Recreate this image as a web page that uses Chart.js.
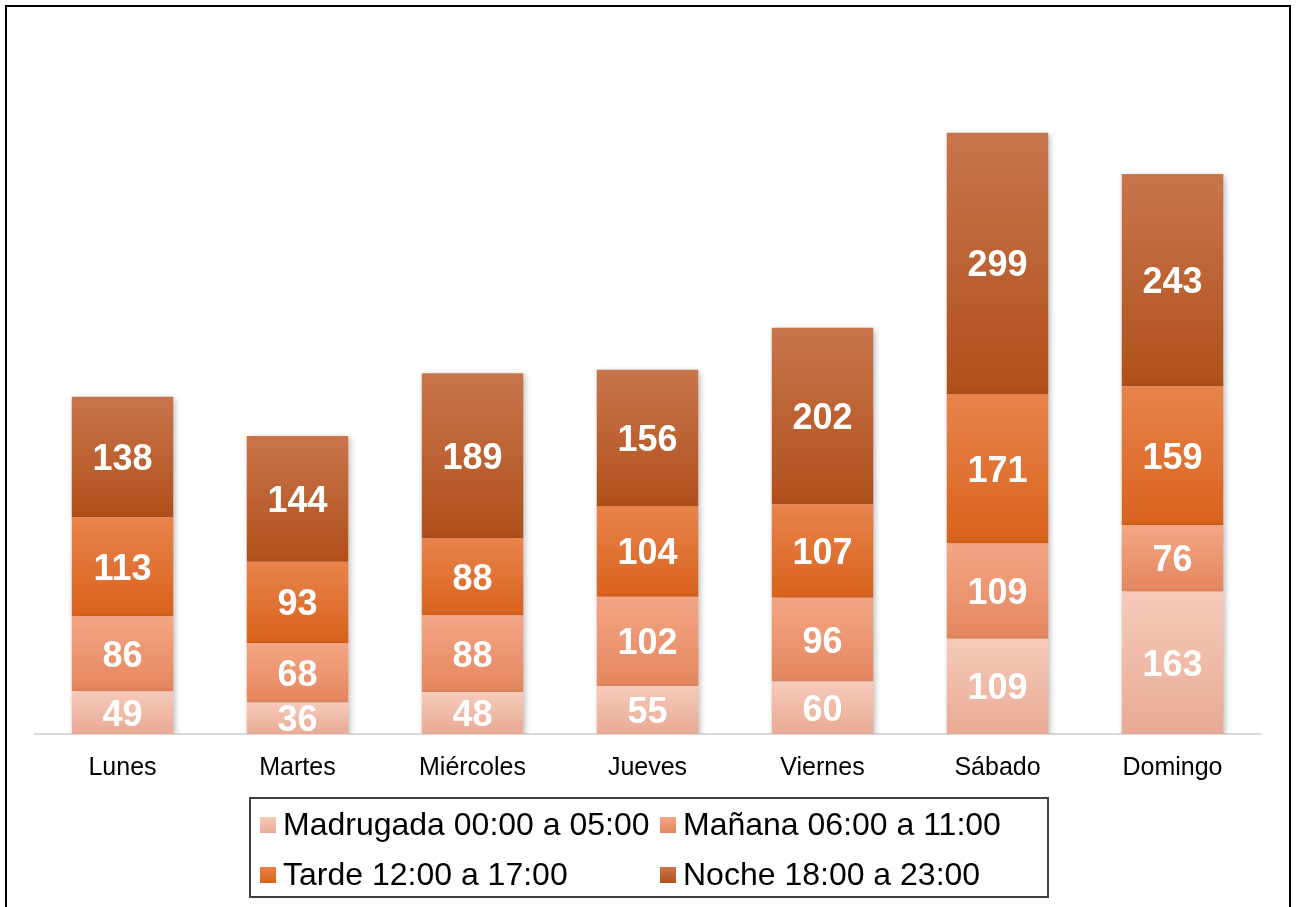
<!DOCTYPE html>
<html>
<head>
<meta charset="utf-8">
<script src="https://cdn.jsdelivr.net/npm/chart.js@4/dist/chart.umd.min.js"></script>
<style>
  html, body { margin: 0; padding: 0; background: #fff; }
  #wrap { position: relative; width: 1297px; height: 907px; overflow: hidden; }
  #frame { position: absolute; left: 5px; top: 5px; width: 1282px; height: 960px;
           border: 2px solid #000; border-bottom: none; pointer-events: none; }
  canvas { position: absolute; left: 0; top: 0; }
</style>
</head>
<body>
<div id="wrap">
  <canvas id="myChart" width="1297" height="907"></canvas>
  <div id="frame"></div>
</div>
<script>
// data
const days = ["Lunes", "Martes", "Miércoles", "Jueves", "Viernes", "Sábado", "Domingo"];
const madrugada = [49, 36, 48, 55, 60, 109, 163];
const manana = [86, 68, 88, 102, 96, 109, 76];
const tarde = [113, 93, 88, 104, 107, 171, 159];
const noche = [138, 144, 189, 156, 202, 299, 243];
const seriesNames = ["Madrugada 00:00 a 05:00", "Mañana 06:00 a 11:00", "Tarde 12:00 a 17:00", "Noche 18:00 a 23:00"];

// top / bottom colour of each series gradient
const shades = [
  ["#F7CABA", "#E8AA95"],
  ["#F4A685", "#E4865E"],
  ["#E9844C", "#D8621C"],
  ["#C9754C", "#B0501A"]
];

const FONT = "'Liberation Sans', Arial, sans-serif";

// vertical gradient for every stacked segment, built from the y scale
function segmentFill(ctx) {
  const chart = ctx.chart;
  const y = chart.scales.y;
  const [top, bottom] = shades[ctx.datasetIndex];
  if (!y || ctx.type !== "data") return top;
  let start = 0;
  for (let i = 0; i < ctx.datasetIndex; i++) start += chart.data.datasets[i].data[ctx.dataIndex];
  const end = start + chart.data.datasets[ctx.datasetIndex].data[ctx.dataIndex];
  const y0 = y.getPixelForValue(end), y1 = y.getPixelForValue(start);
  if (!isFinite(y0) || !isFinite(y1)) return top;
  const g = chart.ctx.createLinearGradient(0, y0, 0, y1);
  g.addColorStop(0, top);
  g.addColorStop(1, bottom);
  return g;
}

const barShadow = {
  id: "barShadow",
  beforeDatasetDraw(chart) {
    const c = chart.ctx;
    c.save();
    c.shadowColor = "rgba(0,0,0,0.28)";
    c.shadowBlur = 6;
    c.shadowOffsetX = 2;
    c.shadowOffsetY = 2;
  },
  afterDatasetDraw(chart) {
    chart.ctx.restore();
  }
};

const valueLabels = {
  id: "valueLabels",
  afterDatasetsDraw(chart) {
    const c = chart.ctx;
    c.save();
    c.fillStyle = "#fff";
    c.font = "bold 36px " + FONT;
    c.textAlign = "center";
    c.textBaseline = "middle";
    chart.data.datasets.forEach((ds, di) => {
      chart.getDatasetMeta(di).data.forEach((bar, i) => {
        const mid = (bar.y + bar.base) / 2;
        c.fillText(String(ds.data[i]), bar.x, mid + 3);
      });
    });
    c.restore();
  }
};

const boxLegend = {
  id: "boxLegend",
  afterDraw(chart) {
    const c = chart.ctx;
    const w = 798, h = 99;
    const left = Math.round(chart.width / 2 - w / 2), top = 798;
    c.save();
    c.strokeStyle = "#404040";
    c.lineWidth = 2;
    c.strokeRect(left, top, w, h);
    c.font = "32px " + FONT;
    c.textBaseline = "middle";
    c.textAlign = "left";
    const cols = [left + 10, left + 410];
    const rows = [top + 27, top + 77];
    chart.data.datasets.forEach((ds, i) => {
      const x = cols[i % 2], yy = rows[Math.floor(i / 2)];
      const g = c.createLinearGradient(0, yy - 8, 0, yy + 8);
      g.addColorStop(0, shades[i][0]);
      g.addColorStop(1, shades[i][1]);
      c.fillStyle = g;
      c.fillRect(x, yy - 8, 16, 16);
      c.fillStyle = "#000";
      c.fillText(ds.label, x + 23, yy + 1);
    });
    c.restore();
  }
};

const myChartRef = document.getElementById("myChart").getContext("2d");
new Chart(myChartRef, {
  type: "bar",
  data: {
    labels: days,
    datasets: [
      { label: seriesNames[0], data: madrugada, backgroundColor: segmentFill },
      { label: seriesNames[1], data: manana, backgroundColor: segmentFill },
      { label: seriesNames[2], data: tarde, backgroundColor: segmentFill },
      { label: seriesNames[3], data: noche, backgroundColor: segmentFill }
    ]
  },
  options: {
    responsive: false,
    animation: false,
    layout: { padding: { left: 35, right: 37, top: 35, bottom: 105 } },
    datasets: {
      bar: {
        borderWidth: 0,
        categoryPercentage: 1,
        barPercentage: 0.58
      }
    },
    plugins: {
      colors: { enabled: false },
      legend: { display: false },
      tooltip: { enabled: false }
    },
    scales: {
      x: {
        stacked: true,
        grid: { display: false, drawTicks: false },
        border: { display: true, color: "#D9D9D9", width: 2 },
        ticks: { color: "#000", font: { family: FONT, size: 25 }, padding: 19 }
      },
      y: {
        stacked: true,
        display: false,
        min: 0,
        max: 800
      }
    }
  },
  plugins: [barShadow, valueLabels, boxLegend]
});
</script>
</body>
</html>
